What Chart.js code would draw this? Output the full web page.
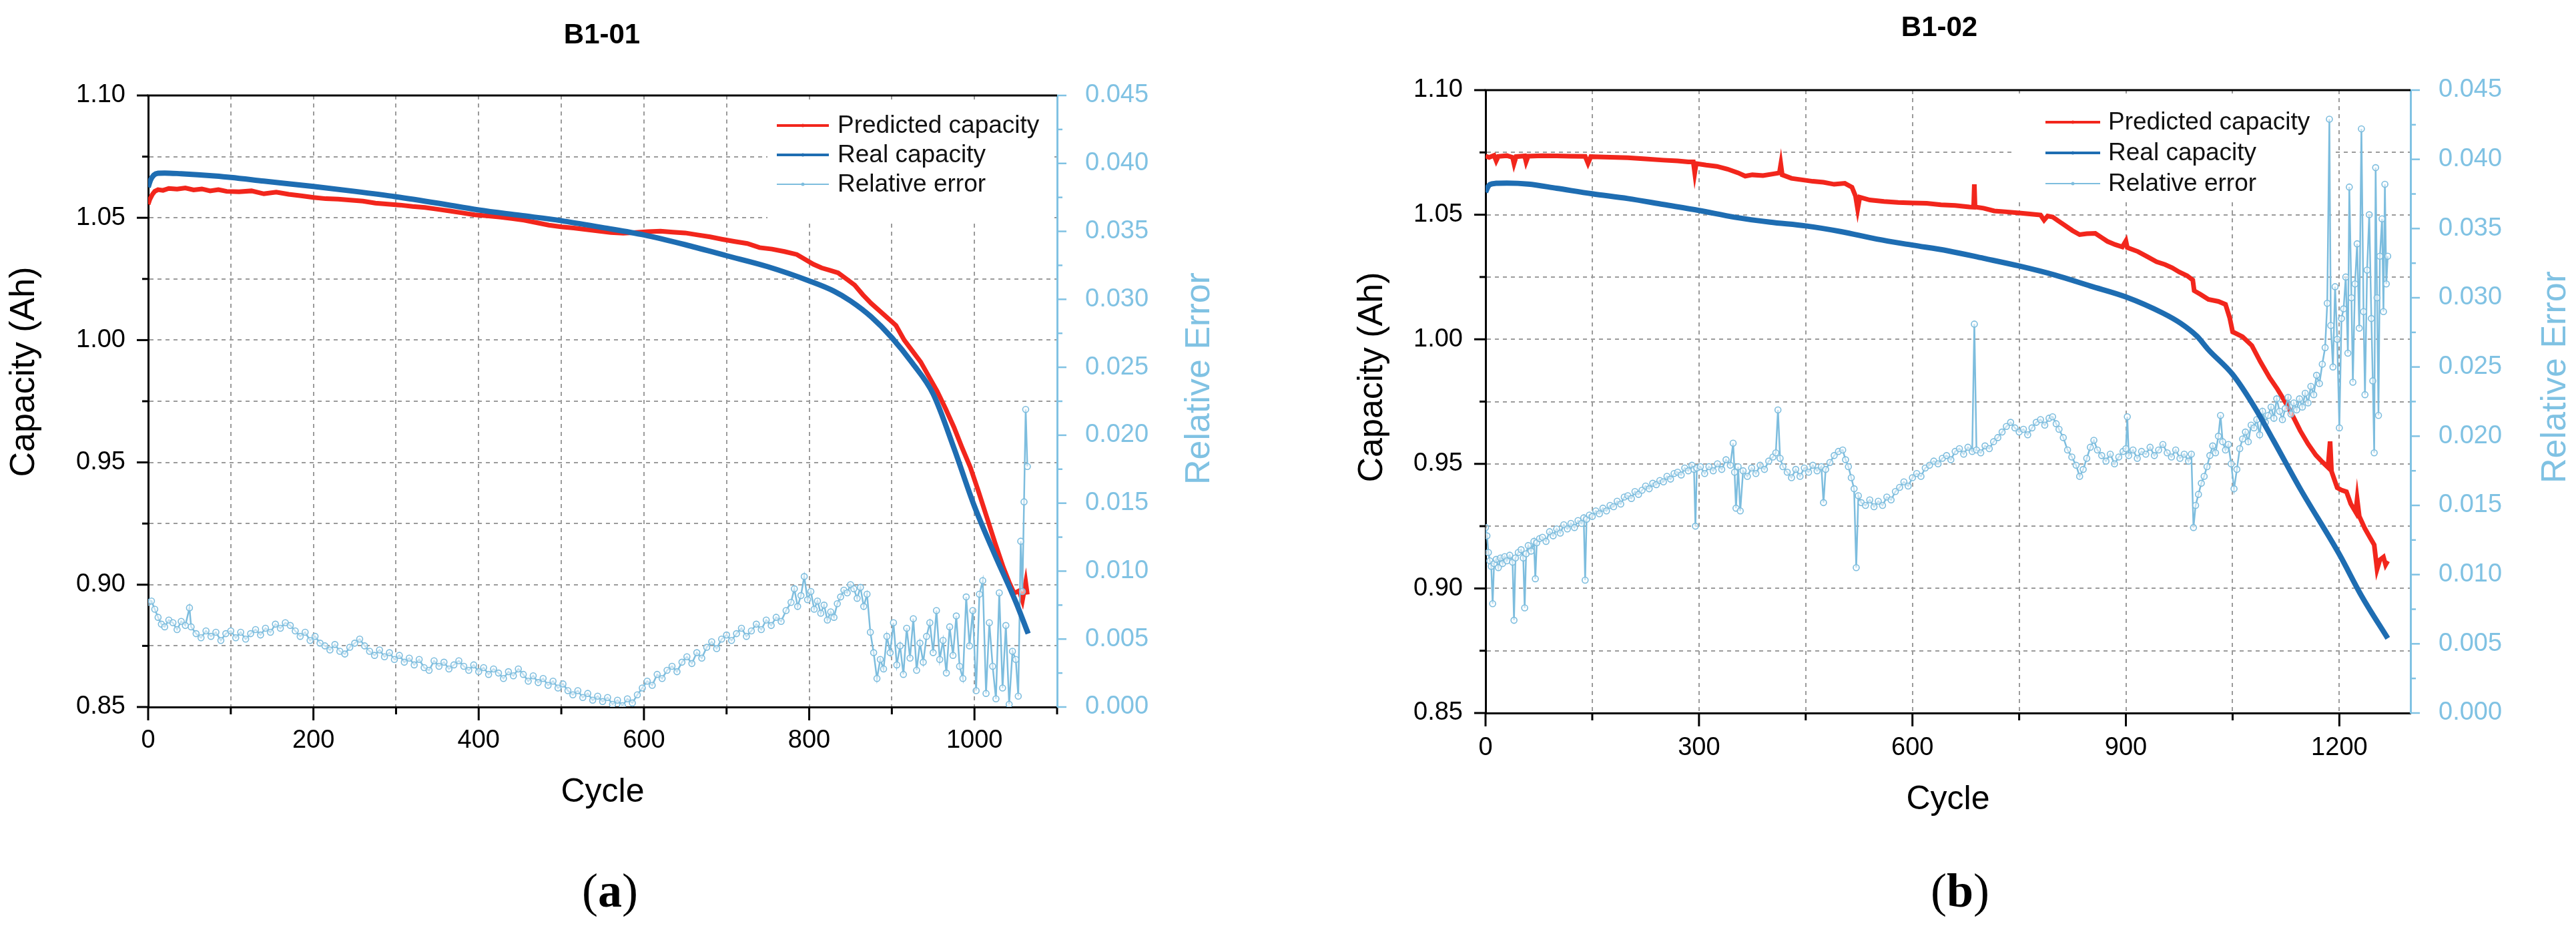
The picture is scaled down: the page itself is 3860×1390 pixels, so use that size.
<!DOCTYPE html>
<html>
<head>
<meta charset="utf-8">
<title>B1-01 / B1-02 capacity prediction</title>
<script src="https://cdn.jsdelivr.net/npm/chart.js@4.4.0/dist/chart.umd.min.js"></script>
<style>
  html, body { margin: 0; padding: 0; background: #fff; }
  #wrap { position: relative; width: 3860px; height: 1390px; overflow: hidden; font-family: "Liberation Sans", Arial, sans-serif; }
  .panel { position: absolute; top: 0; }
  .ttl { position: absolute; transform: translate(-50%, -50%); font-weight: bold; font-size: 42px; color: #000; white-space: nowrap; }
  .tag { position: absolute; transform: translate(-50%, -50%); font-family: "Liberation Serif", "Times New Roman", serif; font-size: 72px; color: #000; }
  .tag b { font-weight: bold; }
</style>
</head>
<body>
<div id="wrap">
  <div class="panel" style="left:0;width:1930px;height:1217px"><canvas id="chartA"></canvas></div>
  <div class="panel" style="left:1930px;width:1930px;height:1228px"><canvas id="chartB"></canvas></div>
  <div class="ttl" style="left:902px;top:51px">B1-01</div>
  <div class="ttl" style="left:2906px;top:40px">B1-02</div>
  <div class="tag" style="left:914px;top:1334px">(<b>a</b>)</div>
  <div class="tag" style="left:2937px;top:1334px">(<b>b</b>)</div>
</div>
<script>
// ---- axis ticks ----
const aXGrid = [0, 100, 200, 300, 400, 500, 600, 700, 800, 900, 1000, 1100];
const aXLabels = [0, 200, 400, 600, 800, 1000];
const bXGrid = [0, 150, 300, 450, 600, 750, 900, 1050, 1200];
const bXLabels = [0, 300, 600, 900, 1200];
const capGrid = [0.85, 0.875, 0.90, 0.925, 0.95, 0.975, 1.00, 1.025, 1.05, 1.075, 1.10];
const capLabels = [0.85, 0.90, 0.95, 1.00, 1.05, 1.10];
const errGrid = [0, 0.0025, 0.005, 0.0075, 0.01, 0.0125, 0.015, 0.0175, 0.02, 0.0225,
  0.025, 0.0275, 0.03, 0.0325, 0.035, 0.0375, 0.04, 0.0425, 0.045];
const errLabels = [0, 0.005, 0.01, 0.015, 0.02, 0.025, 0.03, 0.035, 0.04, 0.045];

// ---- B1-01 ----
const aRealCycle = [0, 3, 7, 12, 20, 40, 60, 80, 100, 140, 200, 250, 300, 350, 400, 450, 500, 550, 600,
  650, 700, 750, 800, 830, 850, 875, 900, 925, 950, 975, 1000, 1025, 1050, 1065];
const aReal = [1.0625, 1.0655, 1.0675, 1.0682, 1.0683, 1.0680, 1.0676, 1.0671, 1.0665, 1.0650, 1.0628,
  1.0608, 1.0586, 1.0560, 1.0532, 1.0510, 1.0488, 1.0460, 1.0430, 1.0390, 1.0345, 1.0300, 1.0242,
  1.0200, 1.0160, 1.0095, 1.0010, 0.9905, 0.9780, 0.9560, 0.9320, 0.9120, 0.8930, 0.8800];

const aPredCycle = [0, 2, 5, 8, 12, 18, 25, 35, 45, 55, 65, 75, 85, 95, 110, 125, 140, 155, 170, 185,
  200, 215, 230, 245, 260, 275, 290, 305, 320, 335, 350, 365, 380, 395, 410, 425, 440, 455, 470, 485,
  500, 515, 530, 545, 560, 575, 590, 605, 620, 635, 650, 665, 680, 695, 710, 725, 740, 755, 770, 785,
  795, 805, 815, 825, 835, 845, 855, 865, 875, 885, 895, 905, 915, 925, 935, 945, 955, 965, 975, 985,
  995, 1005, 1015, 1025, 1035, 1042, 1048, 1054, 1058, 1062, 1064];
const aPred = [1.0555, 1.0575, 1.0595, 1.0608, 1.0615, 1.0612, 1.0620, 1.0617, 1.0622, 1.0614, 1.0618,
  1.0610, 1.0615, 1.0608, 1.0606, 1.0610, 1.0598, 1.0605, 1.0596, 1.0590, 1.0583, 1.0578, 1.0576,
  1.0572, 1.0568, 1.0560, 1.0556, 1.0552, 1.0546, 1.0542, 1.0535, 1.0528, 1.0520, 1.0512, 1.0508,
  1.0503, 1.0497, 1.0490, 1.0480, 1.0470, 1.0463, 1.0458, 1.0452, 1.0446, 1.0440, 1.0437, 1.0440,
  1.0443, 1.0445, 1.0441, 1.0438, 1.0430, 1.0422, 1.0412, 1.0403, 1.0395, 1.0378, 1.0372, 1.0362,
  1.0350, 1.0330, 1.0310, 1.0295, 1.0285, 1.0275, 1.0250, 1.0225, 1.0185, 1.0150, 1.0120, 1.0090,
  1.0060, 1.0000, 0.9955, 0.9910, 0.9850, 0.9790, 0.9720, 0.9645, 0.9560, 0.9480, 0.9380, 0.9275,
  0.9170, 0.9070, 0.9010, 0.8965, 0.8975, 0.8935, 0.9010, 0.8960];

const aErrCycle = [0, 4, 8, 12, 16, 20, 25, 30, 35, 40, 45, 50, 52, 58, 64, 70, 76, 82, 88, 94, 100,
  106, 112, 118, 124, 130, 136, 142, 148, 154, 160, 166, 172, 178, 184, 190, 196, 202, 208, 214, 220,
  226, 232, 238, 244, 250, 256, 262, 268, 274, 280, 286, 292, 298, 304, 310, 316, 322, 328, 334, 340,
  346, 352, 358, 364, 370, 376, 382, 388, 394, 400, 406, 412, 418, 424, 430, 436, 442, 448, 454, 460,
  466, 472, 478, 484, 490, 496, 502, 508, 514, 520, 526, 532, 538, 544, 550, 556, 562, 568, 574, 580,
  586, 592, 598, 604, 610, 616, 622, 628, 634, 640, 646, 652, 658, 664, 670, 676, 682, 688, 694, 700,
  706, 712, 718, 724, 730, 736, 742, 748, 754, 760, 766, 772, 778, 782, 786, 790, 794, 798, 802, 806,
  810, 814, 818, 822, 826, 830, 834, 838, 842, 846, 850, 854, 858, 862, 866, 870, 874, 878, 882, 886,
  890, 894, 898, 902, 906, 910, 914, 918, 922, 926, 930, 934, 938, 942, 946, 950, 954, 958, 962, 966,
  970, 974, 978, 982, 986, 990, 994, 998, 1002, 1006, 1010, 1014, 1018, 1022, 1026, 1030, 1034, 1038,
  1042, 1046, 1050, 1053, 1056, 1058, 1060, 1062, 1064];
const aErr = [0.0077, 0.0078, 0.0072, 0.0066, 0.0061, 0.0059, 0.0064, 0.0062, 0.0057, 0.0063, 0.0060,
  0.0073, 0.0059, 0.0054, 0.0051, 0.0056, 0.0052, 0.0055, 0.0049, 0.0054, 0.0056, 0.0051, 0.0055,
  0.0050, 0.0054, 0.0057, 0.0053, 0.0058, 0.0055, 0.0061, 0.0058, 0.0062, 0.0060, 0.0056, 0.0052,
  0.0055, 0.0049, 0.0052, 0.0047, 0.0045, 0.0042, 0.0046, 0.0041, 0.0039, 0.0044, 0.0047, 0.0050,
  0.0045, 0.0041, 0.0038, 0.0042, 0.0037, 0.0040, 0.0035, 0.0038, 0.0033, 0.0036, 0.0031, 0.0035,
  0.0029, 0.0027, 0.0034, 0.0030, 0.0033, 0.0028, 0.0031, 0.0034, 0.0030, 0.0027, 0.0031, 0.0026,
  0.0029, 0.0024, 0.0028, 0.0025, 0.0021, 0.0026, 0.0023, 0.0028, 0.0024, 0.0019, 0.0023, 0.0018,
  0.0021, 0.0016, 0.0019, 0.0014, 0.0017, 0.0012, 0.0009, 0.0012, 0.0007, 0.0010, 0.0005, 0.0008,
  0.0004, 0.0007, 0.0002, 0.0005, 0.0001, 0.0006, 0.0003, 0.0009, 0.0014, 0.0019, 0.0016, 0.0024,
  0.0021, 0.0027, 0.0030, 0.0026, 0.0033, 0.0037, 0.0032, 0.0040, 0.0036, 0.0044, 0.0048, 0.0043,
  0.0050, 0.0053, 0.0049, 0.0054, 0.0058, 0.0052, 0.0056, 0.0061, 0.0057, 0.0064, 0.0060, 0.0066,
  0.0063, 0.0071, 0.0077, 0.0087, 0.0074, 0.0082, 0.0096, 0.0079, 0.0085, 0.0072, 0.0078, 0.0069,
  0.0075, 0.0064, 0.0070, 0.0066, 0.0076, 0.0081, 0.0086, 0.0084, 0.0090, 0.0087, 0.0080, 0.0088,
  0.0074, 0.0083, 0.0055, 0.0040, 0.0021, 0.0035, 0.0028, 0.0052, 0.0040, 0.0062, 0.0031, 0.0045,
  0.0024, 0.0058, 0.0036, 0.0065, 0.0027, 0.0047, 0.0033, 0.0052, 0.0062, 0.0040, 0.0071, 0.0035,
  0.0049, 0.0025, 0.0059, 0.0038, 0.0067, 0.0030, 0.0021, 0.0081, 0.0045, 0.0071, 0.0012, 0.0083,
  0.0093, 0.0010, 0.0062, 0.0030, 0.0006, 0.0084, 0.0014, 0.0060, 0.0002, 0.0041, 0.0035, 0.0008,
  0.0122, 0.0085, 0.0151, 0.0219, 0.0177];

// ---- B1-02 ----
const bRealCycle = [0, 3, 6, 15, 30, 60, 100, 150, 200, 250, 300, 350, 400, 450, 500, 550, 600, 650,
  700, 750, 800, 850, 900, 952, 977, 1000, 1016, 1050, 1081, 1107, 1145, 1200, 1231, 1268];
const bReal = [1.0590, 1.0610, 1.0621, 1.0626, 1.0627, 1.0623, 1.0606, 1.0584, 1.0565, 1.0541, 1.0517,
  1.0490, 1.0470, 1.0455, 1.0432, 1.0402, 1.0378, 1.0355, 1.0325, 1.0294, 1.0258, 1.0214, 1.0170,
  1.0105, 1.0064, 1.0012, 0.9958, 0.9859, 0.9727, 0.9596, 0.9400, 0.9137, 0.8971, 0.8800];

const bPredCycle = [0, 5, 12, 15, 18, 30, 38, 40, 43, 55, 57, 60, 80, 100, 120, 140, 144, 148, 175, 200,
  225, 250, 270, 285, 292, 294, 296, 310, 325, 340, 355, 365, 375, 390, 405, 413, 415, 417, 430, 445,
  460, 475, 490, 505, 515, 520, 523, 526, 540, 560, 580, 600, 620, 640, 660, 680, 686, 687, 688, 700,
  715, 730, 750, 765, 780, 785, 790, 797, 805, 814, 825, 835, 845, 857, 866, 874, 885, 895, 900, 902,
  917, 930, 943, 955, 965, 975, 986, 994, 996, 1005, 1016, 1030, 1040, 1046, 1050, 1064, 1077, 1089,
  1102, 1113, 1124, 1135, 1145, 1156, 1167, 1176, 1184, 1187, 1189, 1197, 1203, 1210, 1216, 1223, 1225,
  1228, 1236, 1243, 1249, 1253, 1257, 1262, 1265, 1268];
const bPred = [1.0735, 1.0730, 1.0738, 1.0716, 1.0734, 1.0737, 1.0730, 1.0705, 1.0733, 1.0736, 1.0712,
  1.0735, 1.0737, 1.0736, 1.0735, 1.0734, 1.0706, 1.0733, 1.0731, 1.0729, 1.0724, 1.0719, 1.0716,
  1.0712, 1.0712, 1.0668, 1.0705, 1.0699, 1.0694, 1.0683, 1.0668, 1.0655, 1.0660, 1.0657, 1.0664,
  1.0668, 1.0703, 1.0660, 1.0646, 1.0640, 1.0634, 1.0630, 1.0622, 1.0626, 1.0610, 1.0575, 1.0522,
  1.0570, 1.0559, 1.0553, 1.0549, 1.0547, 1.0546, 1.0540, 1.0537, 1.0531, 1.0530, 1.0622, 1.0531,
  1.0526, 1.0515, 1.0512, 1.0507, 1.0503, 1.0499, 1.0478, 1.0495, 1.0491, 1.0475, 1.0458, 1.0436,
  1.0420, 1.0424, 1.0425, 1.0408, 1.0393, 1.0380, 1.0371, 1.0395, 1.0368, 1.0352, 1.0332, 1.0311,
  1.0300, 1.0287, 1.0270, 1.0255, 1.0238, 1.0195, 1.0180, 1.0160, 1.0152, 1.0140, 1.0085, 1.0030,
  1.0010, 0.9975, 0.9910, 0.9846, 0.9800, 0.9748, 0.9690, 0.9633, 0.9580, 0.9535, 0.9508, 0.9486,
  0.9590, 0.9470, 0.9404, 0.9395, 0.9388, 0.9340, 0.9306, 0.9360, 0.9290, 0.9240, 0.9205, 0.9175,
  0.9077, 0.9115, 0.9126, 0.9095, 0.9110];

const bErrCycle = [0, 2, 4, 6, 8, 10, 12, 15, 18, 21, 24, 27, 30, 34, 38, 40, 42, 46, 50, 53, 55, 57,
  60, 64, 68, 70, 72, 76, 80, 85, 90, 95, 100, 105, 110, 115, 120, 125, 130, 135, 138, 140, 142, 146,
  150, 155, 160, 165, 170, 175, 180, 185, 190, 195, 200, 205, 210, 215, 220, 225, 230, 235, 240, 245,
  250, 255, 260, 265, 270, 275, 280, 285, 290, 293, 295, 297, 302, 308, 314, 320, 326, 332, 338, 344,
  348, 350, 352, 355, 358, 362, 368, 374, 380, 386, 392, 398, 404, 408, 411, 414, 418, 424, 430, 436,
  442, 448, 454, 460, 466, 472, 475, 478, 484, 490, 496, 502, 506, 510, 514, 518, 521, 524, 528, 534,
  540, 546, 552, 558, 564, 570, 576, 582, 588, 594, 600, 606, 612, 618, 624, 630, 636, 642, 648, 654,
  660, 666, 672, 678, 684, 687, 690, 696, 702, 708, 714, 720, 726, 732, 738, 744, 750, 756, 762, 768,
  774, 780, 786, 792, 797, 802, 806, 812, 818, 824, 830, 835, 840, 845, 850, 855, 860, 866, 872, 878,
  884, 890, 896, 900, 902, 904, 910, 916, 922, 928, 934, 940, 946, 952, 958, 964, 970, 976, 982, 988,
  992, 995, 998, 1002, 1006, 1010, 1014, 1018, 1022, 1026, 1030, 1033, 1036, 1040, 1044, 1048, 1052,
  1056, 1060, 1064, 1068, 1072, 1076, 1080, 1084, 1088, 1092, 1096, 1100, 1104, 1108, 1112, 1116,
  1120, 1124, 1128, 1132, 1136, 1140, 1144, 1148, 1152, 1156, 1160, 1164, 1168, 1172, 1176, 1180,
  1183, 1186, 1188, 1191, 1194, 1197, 1200, 1203, 1206, 1209, 1212, 1214, 1217, 1219, 1222, 1225,
  1228, 1231, 1234, 1236, 1239, 1242, 1245, 1247, 1249, 1251, 1253, 1255, 1257, 1260, 1262, 1264,
  1266, 1268];
const bErr = [0.0134, 0.0128, 0.0116, 0.0110, 0.0106, 0.0079, 0.0108, 0.0111, 0.0105, 0.0112, 0.0108,
  0.0113, 0.0110, 0.0114, 0.0109, 0.0067, 0.0112, 0.0116, 0.0118, 0.0112, 0.0076, 0.0115, 0.0121,
  0.0117, 0.0124, 0.0097, 0.0123, 0.0126, 0.0127, 0.0124, 0.0131, 0.0128, 0.0133, 0.0130, 0.0136,
  0.0133, 0.0137, 0.0134, 0.0139, 0.0137, 0.0141, 0.0096, 0.0140, 0.0143, 0.0142, 0.0146, 0.0144,
  0.0148, 0.0146, 0.0150, 0.0149, 0.0153, 0.0151, 0.0156, 0.0157, 0.0155, 0.0160, 0.0158, 0.0161,
  0.0164, 0.0162, 0.0166, 0.0165, 0.0168, 0.0167, 0.0171, 0.0169, 0.0173, 0.0174, 0.0172, 0.0177,
  0.0175, 0.0179, 0.0176, 0.0135, 0.0177, 0.0178, 0.0173, 0.0178, 0.0175, 0.0180, 0.0176, 0.0183,
  0.0179, 0.0195, 0.0174, 0.0148, 0.0178, 0.0146, 0.0175, 0.0171, 0.0177, 0.0173, 0.0179, 0.0176,
  0.0182, 0.0185, 0.0188, 0.0219, 0.0184, 0.0178, 0.0174, 0.0170, 0.0176, 0.0171, 0.0177, 0.0174,
  0.0179, 0.0175, 0.0178, 0.0152, 0.0176, 0.0181, 0.0186, 0.0189, 0.0190, 0.0183, 0.0178, 0.0170,
  0.0162, 0.0105, 0.0157, 0.0152, 0.0150, 0.0154, 0.0149, 0.0153, 0.0150, 0.0156, 0.0154, 0.0160,
  0.0163, 0.0167, 0.0164, 0.0170, 0.0173, 0.0171, 0.0177, 0.0179, 0.0182, 0.0180, 0.0184, 0.0186,
  0.0183, 0.0189, 0.0191, 0.0187, 0.0192, 0.0189, 0.0281, 0.0190, 0.0188, 0.0193, 0.0191, 0.0196,
  0.0199, 0.0203, 0.0207, 0.0210, 0.0206, 0.0203, 0.0205, 0.0201, 0.0206, 0.0210, 0.0212, 0.0208,
  0.0213, 0.0214, 0.0209, 0.0205, 0.0199, 0.0190, 0.0185, 0.0179, 0.0171, 0.0176, 0.0184, 0.0192,
  0.0197, 0.0190, 0.0186, 0.0182, 0.0187, 0.0180, 0.0185, 0.0189, 0.0191, 0.0214, 0.0186, 0.0190,
  0.0184, 0.0189, 0.0187, 0.0192, 0.0186, 0.0190, 0.0194, 0.0188, 0.0185, 0.0190, 0.0184, 0.0187,
  0.0182, 0.0187, 0.0134, 0.0150, 0.0158, 0.0166, 0.0171, 0.0178, 0.0186, 0.0193, 0.0188, 0.0200,
  0.0215, 0.0196, 0.0190, 0.0194, 0.0180, 0.0162, 0.0176, 0.0191, 0.0198, 0.0203, 0.0196, 0.0208,
  0.0206, 0.0212, 0.0201, 0.0218, 0.0210, 0.0215, 0.0221, 0.0213, 0.0227, 0.0218, 0.0212, 0.0220,
  0.0228, 0.0216, 0.0224, 0.0219, 0.0227, 0.0221, 0.0231, 0.0224, 0.0236, 0.0230, 0.0244, 0.0238,
  0.0252, 0.0264, 0.0296, 0.0429, 0.0280, 0.0250, 0.0308, 0.0270, 0.0206, 0.0285, 0.0292, 0.0315,
  0.0260, 0.0380, 0.0300, 0.0239, 0.0310, 0.0339, 0.0278, 0.0422, 0.0290, 0.0230, 0.0320, 0.0360,
  0.0285, 0.0240, 0.0188, 0.0394, 0.0300, 0.0215, 0.0330, 0.0357, 0.0290, 0.0382, 0.0310, 0.0330];

// ---- styling ----
const RED = '#F2261C';
const BLUE = '#1E6DB2';
const ERR = '#7DBDDE';
const ERR_AXIS = '#80C2E3';
const GRID = '#9b9b9b';
const FONT = '"Liberation Sans", Arial, sans-serif';
Chart.defaults.font.family = FONT;

const pts = (xs, ys) => xs.map((x, i) => ({ x: x, y: ys[i] }));
const near = (arr, v) => arr.some(a => Math.abs(a - v) < 1e-9);

// axis frame: top edge, outward tick marks, vertical titles, legend
const frame = {
  id: 'frame',
  beforeDatasetsDraw(chart, args, o) {
    const ctx = chart.ctx;
    ctx.save();
    ctx.fillStyle = '#fff';
    ctx.fillRect(o.box[0], o.box[1], o.box[2], o.box[3]);
    ctx.restore();
  },
  afterDraw(chart, args, o) {
    const { ctx, chartArea: a, scales } = chart;
    const line = (x1, y1, x2, y2) => { ctx.beginPath(); ctx.moveTo(x1, y1); ctx.lineTo(x2, y2); ctx.stroke(); };
    ctx.save();
    ctx.strokeStyle = '#000';
    ctx.lineWidth = 3;
    line(a.left - 1.5, a.top, a.right, a.top);
    scales.x.ticks.forEach(t => {
      const p = scales.x.getPixelForValue(t.value);
      line(p, a.bottom, p, a.bottom + (t.label !== '' ? 20 : 11));
    });
    scales.y.ticks.forEach(t => {
      const p = scales.y.getPixelForValue(t.value);
      line(a.left, p, a.left - (t.label !== '' ? 17 : 9), p);
    });
    ctx.strokeStyle = ERR_AXIS;
    ctx.lineWidth = 2.5;
    scales.y2.ticks.forEach(t => {
      const p = scales.y2.getPixelForValue(t.value);
      line(a.right, p, a.right + (t.label !== '' ? 14 : 8), p);
    });

    // vertical axis titles, reading bottom to top
    const vtitle = (text, x, y, color) => {
      ctx.save();
      ctx.translate(x, y);
      ctx.rotate(-Math.PI / 2);
      ctx.font = '52px ' + FONT;
      ctx.fillStyle = color;
      ctx.textAlign = 'center';
      ctx.textBaseline = 'middle';
      ctx.fillText(text, 0, 0);
      ctx.restore();
    };
    vtitle('Capacity (Ah)', o.leftTitle[0], o.leftTitle[1], '#000');
    vtitle('Relative Error', o.rightTitle[0], o.rightTitle[1], ERR_AXIS);

    // legend
    const items = [
      { text: 'Predicted capacity', color: RED, width: 4 },
      { text: 'Real capacity', color: BLUE, width: 4 },
      { text: 'Relative error', color: ERR, width: 2 }
    ];
    ctx.font = '37px ' + FONT;
    ctx.textBaseline = 'middle';
    ctx.textAlign = 'left';
    items.forEach((it, i) => {
      const y = o.legend.rows[i];
      ctx.strokeStyle = it.color;
      ctx.lineWidth = it.width;
      line(o.legend.x, y, o.legend.x + o.legend.w, y);
      ctx.fillStyle = it.color;
      ctx.beginPath();
      ctx.arc(o.legend.x + o.legend.w / 2, y, 2.5, 0, Math.PI * 2);
      ctx.fill();
      ctx.fillStyle = '#111';
      ctx.fillText(it.text, o.legend.tx, y + 1);
    });
    ctx.restore();
  }
};

function buildChart(id, s) {
  return new Chart(document.getElementById(id), {
    type: 'line',
    data: {
      datasets: [
        { label: 'Real capacity', data: pts(s.realX, s.realY), yAxisID: 'y', order: 0,
          borderColor: BLUE, borderWidth: 8, pointRadius: 0, cubicInterpolationMode: 'monotone' },
        { label: 'Relative error', data: pts(s.errX, s.errY), yAxisID: 'y2', order: 1,
          borderColor: ERR, borderWidth: 2.5, pointRadius: 4.5, pointBorderWidth: 1.6,
          pointBorderColor: ERR, pointBackgroundColor: 'rgba(255,255,255,0.55)' },
        { label: 'Predicted capacity', data: pts(s.predX, s.predY), yAxisID: 'y', order: 2,
          borderColor: RED, borderWidth: 7, pointRadius: 0 }
      ]
    },
    options: {
      responsive: true,
      maintainAspectRatio: false,
      animation: false,
      events: [],
      layout: { padding: { left: 0, top: s.top, right: 0, bottom: 0 } },
      plugins: {
        legend: { display: false },
        tooltip: { enabled: false },
        frame: s.frame
      },
      scales: {
        x: {
          type: 'linear', min: 0, max: s.xMax,
          afterBuildTicks: sc => { sc.ticks = s.xGrid.map(v => ({ value: v })); },
          afterFit: sc => { sc.height = s.xHeight; },
          grid: { color: GRID, lineWidth: 2, drawTicks: false },
          border: { color: '#000', width: 3, dash: [6, 6] },
          ticks: {
            autoSkip: false, maxRotation: 0, padding: s.xPad, color: '#000', font: { size: 38 },
            callback: v => near(s.xLabels, v) ? String(v) : ''
          },
          title: { display: true, text: 'Cycle', color: '#000', font: { size: 50 }, padding: 0 }
        },
        y: {
          position: 'left', min: 0.85, max: 1.10,
          afterBuildTicks: sc => { sc.ticks = capGrid.map(v => ({ value: v })); },
          afterFit: sc => { sc.width = s.leftWidth; },
          grid: { color: GRID, lineWidth: 2, drawTicks: false },
          border: { color: '#000', width: 3, dash: [6, 6] },
          ticks: {
            autoSkip: false, padding: 34, color: '#000', font: { size: 38 },
            callback: v => near(capLabels, v) ? v.toFixed(2) : ''
          }
        },
        y2: {
          position: 'right', min: 0, max: 0.045,
          afterBuildTicks: sc => { sc.ticks = errGrid.map(v => ({ value: v })); },
          afterFit: sc => { sc.width = s.rightWidth; },
          grid: { drawOnChartArea: false, drawTicks: false },
          border: { color: ERR_AXIS, width: 3 },
          ticks: {
            autoSkip: false, padding: 42, color: ERR_AXIS, font: { size: 38 },
            callback: v => near(errLabels, v) ? v.toFixed(3) : ''
          }
        }
      }
    },
    plugins: [frame]
  });
}

buildChart('chartA', {
  realX: aRealCycle, realY: aReal, predX: aPredCycle, predY: aPred, errX: aErrCycle, errY: aErr,
  xMax: 1100, xGrid: aXGrid, xLabels: aXLabels,
  top: 143, leftWidth: 222, rightWidth: 346, xHeight: 158, xPad: 28,
  frame: {
    box: [1150, 150, 425, 180],
    leftTitle: [37, 557],
    rightTitle: [1798, 567],
    legend: { x: 1164, w: 78, tx: 1255, rows: [188, 232, 276] }
  }
});

buildChart('chartB', {
  realX: bRealCycle, realY: bReal, predX: bPredCycle, predY: bPred, errX: bErrCycle, errY: bErr,
  xMax: 1300, xGrid: bXGrid, xLabels: bXLabels,
  top: 135, leftWidth: 296, rightWidth: 248, xHeight: 160, xPad: 30,
  frame: {
    box: [1084, 140, 481, 160],
    leftTitle: [127, 565],
    rightTitle: [1900, 565],
    legend: { x: 1135, w: 82, tx: 1229, rows: [183, 229, 275] }
  }
});
</script>
</body>
</html>
